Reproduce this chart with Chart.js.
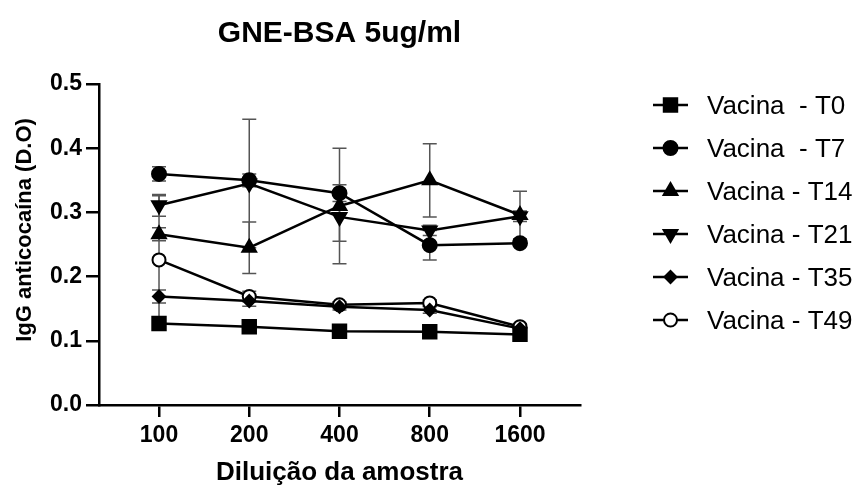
<!DOCTYPE html>
<html>
<head>
<meta charset="utf-8">
<script src="https://cdn.jsdelivr.net/npm/chart.js@4"></script>
<style>
  html, body { margin: 0; padding: 0; background: #fff; }
  #wrap { width: 857px; height: 486px; position: relative; }
</style>
</head>
<body>
<div id="wrap"><canvas id="chart"></canvas></div>
<script>
const dilutions = ['100', '200', '400', '800', '1600'];
const seriesNames = ['Vacina  - T0', 'Vacina  - T7', 'Vacina - T14', 'Vacina - T21', 'Vacina - T35', 'Vacina - T49'];

const t0 = [0.127, 0.122, 0.115, 0.114, 0.110];
const t7 = [0.360, 0.350, 0.330, 0.249, 0.252];
const t14 = [0.266, 0.245, 0.310, 0.350, 0.296];
const t21 = [0.311, 0.345, 0.293, 0.272, 0.294];
const t35 = [0.169, 0.162, 0.153, 0.148, 0.119];
const t49 = [0.226, 0.169, 0.156, 0.159, 0.122];

// error bars (+/-)
const t0Err = [0.004, 0.004, 0.004, 0.004, 0.004];
const t7Err = [0.011, 0.010, 0.013, 0.023, 0.005];
const t14Err = [0.010, 0.040, 0.090, 0.057, 0.037];
const t21Err = [0.017, 0.100, 0.038, 0.008, 0.008];
const t35Err = [0.010, 0.008, 0.005, 0.005, 0.005];
const t49Err = [0.100, 0.008, 0.005, 0.005, 0.005];

const FONT = '"Liberation Sans", Arial, sans-serif';

const styles = [
  { pointStyle: 'rect', radius: 9.5, rotation: 0, fill: '#000' },
  { pointStyle: 'circle', radius: 7, rotation: 0, fill: '#000' },
  { pointStyle: 'triangle', radius: 8, rotation: 0, fill: '#000' },
  { pointStyle: 'triangle', radius: 8, rotation: 180, fill: '#000' },
  { pointStyle: 'rectRot', radius: 6, rotation: 0, fill: '#000' },
  { pointStyle: 'circle', radius: 6.5, rotation: 0, fill: '#fff' }
];

const allValues = [t0, t7, t14, t21, t35, t49];
const allErrors = [t0Err, t7Err, t14Err, t21Err, t35Err, t49Err];

const datasets = allValues.map((vals, k) => ({
  label: seriesNames[k],
  data: vals.map((v, i) => ({ x: i, y: v })),
  errors: allErrors[k],
  borderColor: '#000',
  borderWidth: 2.5,
  tension: 0,
  fill: false,
  pointStyle: styles[k].pointStyle,
  pointRadius: styles[k].radius,
  pointRotation: styles[k].rotation,
  pointBackgroundColor: styles[k].fill,
  pointBorderColor: '#000',
  pointBorderWidth: 2
}));

const errorBarPlugin = {
  id: 'errorBars',
  beforeDatasetsDraw(chart) {
    const { ctx, scales: { x, y } } = chart;
    ctx.save();
    ctx.strokeStyle = '#555';
    ctx.lineWidth = 1.5;
    chart.data.datasets.forEach(ds => {
      ds.data.forEach((p, i) => {
        const e = ds.errors[i];
        const px = x.getPixelForValue(p.x);
        const yTop = y.getPixelForValue(p.y + e);
        const yBot = y.getPixelForValue(p.y - e);
        ctx.beginPath();
        ctx.moveTo(px, yTop);
        ctx.lineTo(px, yBot);
        ctx.moveTo(px - 7, yTop);
        ctx.lineTo(px + 7, yTop);
        ctx.moveTo(px - 7, yBot);
        ctx.lineTo(px + 7, yBot);
        ctx.stroke();
      });
    });
    ctx.restore();
  }
};

const textPlugin = {
  id: 'texts',
  afterDraw(chart) {
    const { ctx, chartArea } = chart;
    ctx.save();
    ctx.fillStyle = '#000';

    // title
    ctx.font = 'bold 30px ' + FONT;
    ctx.textAlign = 'center';
    ctx.textBaseline = 'alphabetic';
    ctx.fillText('GNE-BSA 5ug/ml', (chartArea.left + chartArea.right) / 2, 42);

    // y axis title
    ctx.save();
    ctx.translate(25, 230);
    ctx.rotate(-Math.PI / 2);
    ctx.font = 'bold 22px ' + FONT;
    ctx.textBaseline = 'middle';
    ctx.fillText('IgG anticocaína (D.O)', 0, 0);
    ctx.restore();

    // legend
    ctx.textAlign = 'left';
    ctx.font = '26px ' + FONT;
    seriesNames.forEach((name, k) => {
      const rowY = 105 + k * 43;
      ctx.strokeStyle = '#000';
      ctx.lineWidth = 2.5;
      ctx.beginPath();
      ctx.moveTo(653, rowY);
      ctx.lineTo(688, rowY);
      ctx.stroke();
      ctx.fillStyle = styles[k].fill;
      ctx.lineWidth = 2;
      Chart.helpers.drawPoint(ctx, {
        pointStyle: styles[k].pointStyle,
        radius: styles[k].radius,
        rotation: styles[k].rotation,
        borderWidth: 2
      }, 670.5, rowY);
      ctx.fillStyle = '#000';
      ctx.fillText(name, 707, rowY + 9);
    });
    ctx.restore();
  }
};

new Chart(document.getElementById('chart'), {
  type: 'line',
  data: { datasets },
  options: {
    responsive: true,
    maintainAspectRatio: false,
    animation: false,
    layout: { padding: { top: 84, right: 277, left: 0, bottom: 0 } },
    plugins: {
      legend: { display: false },
      tooltip: { enabled: false },
      title: { display: false }
    },
    scales: {
      x: {
        type: 'linear',
        min: -0.665,
        max: 4.665,
        afterBuildTicks: (scale) => {
          scale.ticks = dilutions.map((d, i) => ({ value: i }));
        },
        afterFit: (scale) => { scale.height = 81; },
        ticks: {
          callback: (v) => dilutions[v],
          color: '#000',
          font: { family: FONT, size: 23, weight: 'bold' },
          padding: 5,
          maxRotation: 0,
          autoSkip: false
        },
        grid: { drawOnChartArea: false, drawTicks: true, tickLength: 12, color: '#000', lineWidth: 2.5 },
        border: { display: true, color: '#000', width: 2.5 },
        title: {
          display: true,
          text: 'Diluição da amostra',
          color: '#000',
          font: { family: FONT, size: 26, weight: 'bold', lineHeight: 1 },
          padding: { top: 0, bottom: 0 }
        }
      },
      y: {
        min: 0,
        max: 0.5,
        afterFit: (scale) => { scale.width = 99; },
        ticks: {
          stepSize: 0.1,
          callback: (v) => v.toFixed(1),
          color: '#000',
          font: { family: FONT, size: 23, weight: 'bold' },
          padding: 4
        },
        grid: { drawOnChartArea: false, drawTicks: true, tickLength: 13, color: '#000', lineWidth: 2.5 },
        border: { display: true, color: '#000', width: 2.5 }
      }
    }
  },
  plugins: [errorBarPlugin, textPlugin]
});
</script>
</body>
</html>
